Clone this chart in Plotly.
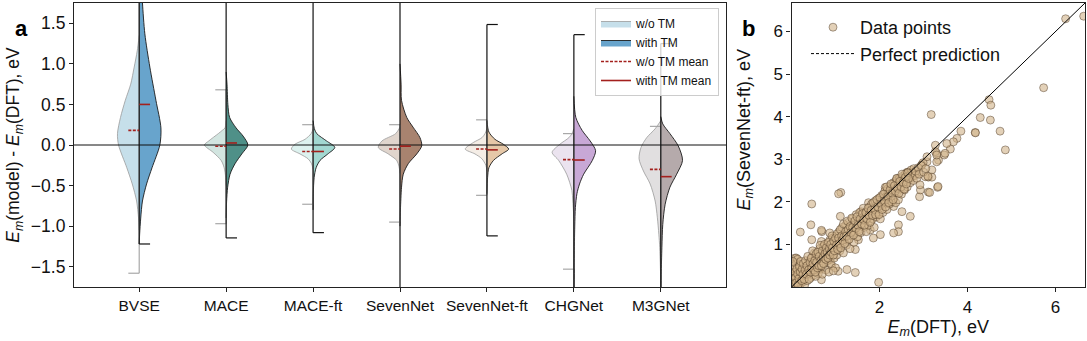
import plotly.graph_objects as go

# ---------------- panel a: migration-barrier errors per model ----------------
models = ["BVSE", "MACE", "MACE-ft", "SevenNet", "SevenNet-ft", "CHGNet", "M3GNet"]

# half-violin profiles: energy error levels (eV) and relative density (peak = 1)
wo_levels = {
    "BVSE": [1.35, 1.16, 0.96, 0.75, 0.55, 0.34, 0.14, 0.0, -0.28, -0.48, -0.69, -0.9, -1.05],
    "MACE": [0.3, 0.21, 0.18, 0.14, 0.05, 0.0, -0.09, -0.19, -0.28, -0.4, -0.5],
    "MACE-ft": [0.2, 0.14, 0.07, 0.01, -0.05, -0.11, -0.17, -0.23, -0.3],
    "SevenNet": [0.22, 0.14, 0.05, -0.03, -0.11, -0.19, -0.26, -0.35],
    "SevenNet-ft": [0.2, 0.14, 0.09, 0.03, -0.05, -0.11, -0.17, -0.25, -0.32],
    "CHGNet": [0.2, 0.14, 0.09, 0.01, -0.09, -0.19, -0.36, -0.56, -0.69, -0.9],
    "M3GNet": [0.3, 0.2, 0.09, -0.03, -0.17, -0.32, -0.48, -0.69, -0.89, -1.1, -1.26, -1.5, -1.7],
}
wo_density = {
    "BVSE": [0.0, 0.09, 0.23, 0.39, 0.64, 0.86, 1.0, 0.95, 0.57, 0.32, 0.12, 0.03, 0.0],
    "MACE": [0.0, 0.05, 0.18, 0.36, 0.8, 1.0, 0.6, 0.23, 0.09, 0.02, 0.0],
    "MACE-ft": [0.0, 0.09, 0.37, 0.83, 1.0, 0.6, 0.23, 0.07, 0.0],
    "SevenNet": [0.0, 0.2, 0.83, 1.0, 0.54, 0.15, 0.05, 0.0],
    "SevenNet-ft": [0.0, 0.09, 0.23, 0.63, 1.0, 0.55, 0.23, 0.05, 0.0],
    "CHGNet": [0.0, 0.09, 0.23, 0.64, 1.0, 0.7, 0.33, 0.09, 0.05, 0.0],
    "M3GNet": [0.0, 0.26, 0.65, 0.91, 1.0, 0.8, 0.49, 0.26, 0.16, 0.09, 0.05, 0.02, 0.0],
}
tm_levels = {
    "BVSE": [2.3, 2.0, 1.75, 1.37, 0.96, 0.55, 0.21, 0.0, -0.28, -0.48, -0.69, -0.9, -1.1, -1.22],
    "MACE": [0.9, 0.75, 0.5, 0.34, 0.21, 0.11, 0.0, -0.11, -0.23, -0.36, -0.52, -0.7, -0.9],
    "MACE-ft": [0.3, 0.2, 0.14, 0.05, -0.03, -0.11, -0.19, -0.28, -0.4, -0.6, -0.8],
    "SevenNet": [1.0, 0.75, 0.55, 0.34, 0.22, 0.09, -0.01, -0.11, -0.23, -0.36, -0.52, -0.8, -1.0],
    "SevenNet-ft": [0.3, 0.16, 0.07, 0.01, -0.05, -0.11, -0.19, -0.28, -0.4, -0.6],
    "CHGNet": [0.6, 0.34, 0.18, 0.05, -0.07, -0.19, -0.36, -0.48, -0.6, -0.77, -1.0, -1.4, -1.9, -2.2],
    "M3GNet": [0.35, 0.26, 0.14, -0.01, -0.19, -0.36, -0.52, -0.73, -0.98, -1.26, -1.6, -1.9, -2.2],
}
tm_density = {
    "BVSE": [0.0, 0.1, 0.15, 0.26, 0.49, 0.77, 1.0, 0.95, 0.59, 0.34, 0.15, 0.07, 0.02, 0.0],
    "MACE": [0.0, 0.04, 0.08, 0.16, 0.46, 0.78, 1.0, 0.72, 0.41, 0.18, 0.07, 0.02, 0.0],
    "MACE-ft": [0.0, 0.06, 0.17, 0.62, 1.0, 0.68, 0.32, 0.14, 0.05, 0.01, 0.0],
    "SevenNet": [0.0, 0.05, 0.07, 0.31, 0.6, 0.92, 1.0, 0.77, 0.38, 0.15, 0.07, 0.02, 0.0],
    "SevenNet-ft": [0.0, 0.09, 0.37, 0.75, 1.0, 0.69, 0.3, 0.09, 0.03, 0.0],
    "CHGNet": [0.0, 0.09, 0.38, 0.75, 1.0, 0.85, 0.45, 0.26, 0.14, 0.07, 0.04, 0.02, 0.01, 0.0],
    "M3GNet": [0.0, 0.09, 0.42, 0.8, 1.0, 0.73, 0.42, 0.2, 0.09, 0.05, 0.02, 0.01, 0.0],
}

# extrema (eV) and means (eV) for each group
wo_min = [-1.58, -0.97, -0.73, -0.95, -0.62, -1.53, -2.0]
wo_max = [2.0, 0.68, 0.25, 0.25, 0.31, 0.14, 0.23]
tm_min = [-1.22, -1.145, -1.08, -2.0, -1.12, -2.0, -2.2]
tm_max = [2.5, 2.2, 2.0, 2.0, 1.485, 1.36, 1.25]
wo_mean = [0.18, -0.015, -0.08, -0.05, -0.05, -0.18, -0.30]
tm_mean = [0.50, 0.025, -0.08, -0.015, -0.06, -0.185, -0.39]

wo_colors = ["#c6dfea", "#d2e5e0", "#ddf2ef", "#e0d5cd", "#f4ede6", "#ebe3ef", "#e1dfe0"]
tm_colors = ["#68a4cc", "#4f9088", "#a2d8d1", "#a8836f", "#e6c8a8", "#c8a8d6", "#b5aaab"]

# ---------------- panel b: SevenNet-ft vs DFT barriers (eV) ----------------
sevennet_ft_points = [
    (6.23, 6.30), (6.64, 6.36), (5.73, 4.68), (4.49, 4.40), (4.53, 4.27), (4.52, 3.92),
    (4.29, 3.98), (4.74, 3.66), (4.86, 3.22), (3.175, 4.05), (4.175, 3.63), (4.18, 3.62),
    (3.85, 3.66), (3.76, 3.49), (3.68, 3.41), (3.61, 3.24), (3.53, 3.37), (3.47, 3.10),
    (3.30, 3.14), (3.27, 3.33), (3.34, 2.98), (3.08, 2.94), (2.96, 2.87), (2.99, 2.92),
    (3.08, 3.06), (3.27, 3.18), (3.32, 2.34), (3.11, 2.23), (2.91, 2.12), (2.93, 2.28),
    (3.11, 2.58), (3.19, 2.75), (3.30, 2.94), (3.49, 3.14), (2.13, 2.34), (2.62, 2.69),
    (2.40, 2.55), (1.12, 2.22), (1.98, 0.11), (1.07, 2.19), (0.46, 1.95), (0.20, 1.29),
    (1.45, 0.34), (1.26, 0.41), (1.11, 1.66), (0.69, 1.30), (0.46, 1.11), (2.70, 1.66),
    (2.43, 1.46), (2.43, 1.30), (2.32, 1.27), (2.02, 1.23), (1.86, 1.15), (1.45, 0.88),
    (3.33, 2.36), (3.14, 2.22), (2.51, 1.77), (2.32, 1.89), (1.75, 1.98), (1.58, 1.77),
    (1.79, 1.34), (1.52, 1.11), (0.88, 0.64), (0.65, 0.41), (0.08, 0.68), (0.05, 0.33),
    (1.06, 0.37), (0.91, 0.49), (0.68, 0.17), (0.65, 0.43), (0.68, 1.33), (0.87, 1.27),
    (0.44, 1.46), (0.68, 1.07), (0.11, 0.68), (2.70, 2.69), (2.85, 2.67), (3.19, 2.58),
    (3.04, 2.59), (3.30, 3.10),
    (0.02, 0.05), (0.04, 0.12), (0.05, 0.02), (0.07, 0.20), (0.08, 0.08), (0.10, 0.15),
    (0.10, 0.30), (0.12, 0.05), (0.13, 0.22), (0.15, 0.12), (0.16, 0.38), (0.17, 0.02),
    (0.18, 0.25), (0.20, 0.18), (0.21, 0.08), (0.22, 0.32), (0.24, 0.20), (0.25, 0.45),
    (0.26, 0.12), (0.28, 0.28), (0.29, 0.40), (0.30, 0.05), (0.03, 0.28), (0.06, 0.40),
    (0.11, 0.55), (0.14, 0.65), (0.19, 0.52), (0.04, 0.33), (0.02, 0.48), (0.03, 0.60),
    (0.32, 0.25), (0.33, 0.48), (0.35, 0.38), (0.36, 0.15), (0.38, 0.55), (0.40, 0.30),
    (0.41, 0.62), (0.42, 0.42), (0.44, 0.22), (0.45, 0.50), (0.47, 0.70), (0.48, 0.38),
    (0.50, 0.58), (0.51, 0.28), (0.52, 0.80), (0.54, 0.48), (0.55, 0.65), (0.57, 0.40),
    (0.58, 0.75), (0.60, 0.55), (0.61, 0.32), (0.62, 0.68), (0.64, 0.90), (0.65, 0.60),
    (0.66, 0.45), (0.68, 0.78), (0.70, 0.66), (0.71, 0.50), (0.72, 0.95), (0.74, 0.72),
    (0.75, 0.58), (0.77, 0.85), (0.78, 0.40), (0.80, 0.75), (0.81, 1.02), (0.82, 0.62),
    (0.84, 0.88), (0.85, 0.70), (0.87, 1.10), (0.88, 0.80), (0.90, 0.55), (0.91, 0.95),
    (0.92, 0.78), (0.94, 1.15), (0.95, 0.88), (0.97, 0.68), (0.98, 1.02), (1.00, 0.90),
    (0.55, 0.25), (0.70, 0.30), (0.85, 0.35), (1.00, 0.45), (0.95, 0.38),
    (1.02, 1.20), (1.03, 0.75), (1.05, 1.05), (1.07, 0.95), (1.08, 1.30), (1.10, 0.85),
    (1.12, 1.12), (1.13, 1.00), (1.15, 1.40), (1.17, 1.05), (1.18, 0.80), (1.20, 1.22),
    (1.22, 1.15), (1.23, 1.45), (1.25, 0.98), (1.27, 1.30), (1.28, 1.10), (1.30, 1.52),
    (1.32, 1.25), (1.33, 0.90), (1.35, 1.38), (1.37, 1.20), (1.38, 1.60), (1.40, 1.32),
    (1.42, 1.05), (1.43, 1.48), (1.45, 1.28), (1.47, 1.70), (1.48, 1.40), (1.50, 1.18),
    (1.52, 1.55), (1.53, 1.35), (1.55, 1.75), (1.57, 1.45), (1.58, 1.28), (1.60, 1.62),
    (1.62, 1.50), (1.63, 1.85), (1.65, 1.40), (1.67, 1.68), (1.68, 1.55), (1.70, 1.30),
    (1.72, 1.78), (1.73, 1.62), (1.75, 1.45), (1.77, 1.88), (1.78, 1.70), (1.80, 1.55),
    (1.82, 1.95), (1.83, 1.75), (1.85, 1.60), (1.87, 1.85), (1.88, 1.40), (1.90, 2.02),
    (1.92, 1.78), (1.93, 1.65), (1.95, 1.92), (1.97, 1.72), (1.98, 2.08), (2.00, 1.85),
    (2.02, 1.60), (2.03, 2.00), (2.05, 2.15), (2.07, 1.90), (2.08, 1.75), (2.10, 2.08),
    (2.12, 2.25), (2.13, 1.95), (2.15, 2.12), (2.17, 1.82), (2.18, 2.30), (2.20, 2.05),
    (2.22, 2.20), (2.23, 1.95), (2.25, 2.38), (2.27, 2.15), (2.28, 2.00), (2.30, 2.28),
    (2.32, 2.45), (2.33, 2.10), (2.35, 2.32), (2.37, 1.98), (2.38, 2.50), (2.40, 2.22),
    (2.42, 2.38), (2.43, 2.05), (2.45, 2.55), (2.47, 2.30), (2.48, 2.45), (2.50, 2.18),
    (2.52, 2.60), (2.53, 2.40), (2.55, 2.52), (2.57, 2.28), (2.58, 2.65), (2.60, 2.48),
    (2.62, 2.58), (2.63, 2.35), (2.65, 2.70), (2.67, 2.52), (2.68, 2.62), (2.70, 2.45),
    (2.72, 2.75), (2.73, 2.58), (2.75, 2.68), (2.77, 2.50), (2.78, 2.78), (2.80, 2.62),
    (2.82, 2.72), (2.85, 2.55), (2.88, 2.80), (2.90, 2.65), (2.92, 2.40), (2.95, 2.85),
    (3.00, 2.70), (3.05, 2.78), (3.10, 2.60),
    (0.01, 0.10), (0.03, 0.18), (0.05, 0.25), (0.06, 0.08), (0.08, 0.35), (0.09, 0.22),
    (0.11, 0.10), (0.12, 0.42), (0.14, 0.30), (0.15, 0.05), (0.17, 0.20), (0.18, 0.48),
    (0.20, 0.35), (0.21, 0.60), (0.23, 0.15), (0.24, 0.42), (0.26, 0.30), (0.27, 0.55),
    (0.29, 0.18), (0.31, 0.40), (0.32, 0.62), (0.34, 0.30), (0.35, 0.50), (0.37, 0.72),
    (0.39, 0.40), (0.40, 0.18), (0.42, 0.58), (0.43, 0.35), (0.45, 0.68), (0.46, 0.45),
    (0.48, 0.85), (0.49, 0.55), (0.51, 0.40), (0.53, 0.62), (0.54, 0.35), (0.56, 0.78),
    (0.57, 0.58), (0.59, 0.45), (0.60, 0.82), (0.62, 0.50), (0.63, 0.72), (0.65, 0.98),
    (0.67, 0.62), (0.68, 0.50), (0.70, 0.85), (0.72, 0.70), (0.73, 0.55), (0.75, 1.00),
    (0.76, 0.78), (0.78, 0.65), (0.79, 0.92), (0.81, 0.82), (0.83, 0.68), (0.84, 1.05),
    (0.86, 0.90), (0.87, 0.75), (0.89, 1.00), (0.90, 0.82), (0.92, 1.20), (0.93, 0.92),
    (0.95, 0.75), (0.96, 1.08), (0.98, 0.85), (1.00, 1.15), (1.02, 0.98), (1.04, 1.25),
    (1.05, 0.88), (1.07, 1.15), (1.09, 1.02), (1.11, 1.35), (1.12, 0.92), (1.14, 1.20),
    (1.16, 1.10), (1.18, 1.48), (1.19, 1.18), (1.21, 1.02), (1.23, 1.30), (1.25, 1.20),
    (1.27, 1.55), (1.29, 1.35), (1.31, 1.12), (1.33, 1.42), (1.35, 1.28), (1.37, 1.62),
    (1.39, 1.40), (1.41, 1.22), (1.44, 1.55), (1.46, 1.38), (1.49, 1.65), (1.51, 1.45),
    (1.54, 1.30), (1.56, 1.60), (1.59, 1.48), (1.61, 1.72), (1.64, 1.58), (1.66, 1.45),
    (1.69, 1.75), (1.71, 1.60), (1.74, 1.85), (1.76, 1.68), (1.79, 1.52), (1.81, 1.80),
    (1.84, 1.68), (1.86, 1.98), (1.89, 1.82), (1.91, 1.70), (1.94, 2.05), (1.96, 1.88),
    (1.99, 1.70), (2.01, 2.10), (2.04, 1.95), (2.06, 1.82), (2.09, 2.18), (2.11, 2.02),
    (2.14, 1.88), (2.16, 2.35), (2.19, 2.12), (2.21, 1.98), (2.24, 2.28), (2.26, 2.42),
    (2.29, 2.20), (2.31, 2.05), (2.34, 2.38), (2.36, 2.25), (2.39, 2.55), (2.41, 2.32),
    (2.44, 2.20), (2.46, 2.48), (2.49, 2.35), (2.51, 2.65), (2.54, 2.45), (2.56, 2.30),
    (2.59, 2.58), (2.61, 2.42), (2.64, 2.68), (2.66, 2.55),
]
em_dft = [p[0] for p in sevennet_ft_points]
em_sevennet_ft = [p[1] for p in sevennet_ft_points]
parity_range = [0.0, 6.67]

HALF_W = 0.25     # max half-width of a violin, in category units
TICK_W = 0.125    # length of extrema caps and mean markers
MEAN_RED = "#a3201d"
FONT = "Liberation Sans, Arial, sans-serif"
KEY = "panel_a_key"

fig = go.Figure()

# split violins: w/o TM on the left, with TM on the right
for i, m in enumerate(models):
    first = (i == 0)
    xs = [i - HALF_W * d for d in wo_density[m]]
    fig.add_trace(go.Scatter(
        x=xs, y=wo_levels[m], mode="lines", fill="toself", fillcolor=wo_colors[i],
        line=dict(color="#9a9a9a", width=0.8, shape="spline", smoothing=0.8),
        name="w/o TM", showlegend=first, legend="legend",
        legendgroup=KEY if first else None, hoverinfo="skip"))
    xs = [i + HALF_W * d for d in tm_density[m]]
    fig.add_trace(go.Scatter(
        x=xs, y=tm_levels[m], mode="lines", fill="toself", fillcolor=tm_colors[i],
        line=dict(color="#1a1a1a", width=0.9, shape="spline", smoothing=0.8),
        name="with TM", showlegend=first, legend="legend",
        legendgroup=KEY if first else None, hoverinfo="skip"))

# extrema bars: grey for w/o TM, black for with TM
def bars(mins, maxs, side):
    bx, by = [], []
    for i, (lo, hi) in enumerate(zip(mins, maxs)):
        bx += [i, i, None]
        by += [lo, hi, None]
        for v in (lo, hi):
            bx += [i, i + side * TICK_W, None]
            by += [v, v, None]
    return bx, by

bx, by = bars(wo_min, wo_max, -1)
fig.add_trace(go.Scatter(x=bx, y=by, mode="lines", line=dict(color="#a0a0a0", width=1.1),
                         showlegend=False, hoverinfo="skip"))
bx, by = bars(tm_min, tm_max, 1)
fig.add_trace(go.Scatter(x=bx, y=by, mode="lines", line=dict(color="#111111", width=1.2),
                         showlegend=False, hoverinfo="skip"))

# zero reference line
fig.add_trace(go.Scatter(x=[-0.75, 6.75], y=[0, 0], mode="lines",
                         line=dict(color="#111111", width=1), showlegend=False,
                         hoverinfo="skip"))

# group means
mx, my = [], []
for i, v in enumerate(wo_mean):
    mx += [i - TICK_W, i, None]
    my += [v, v, None]
fig.add_trace(go.Scatter(x=mx, y=my, mode="lines", name="w/o TM mean", legend="legend",
                         legendgroup=KEY,
                         line=dict(color=MEAN_RED, width=1.6, dash="3px,1.5px"),
                         hoverinfo="skip"))
mx, my = [], []
for i, v in enumerate(tm_mean):
    mx += [i, i + TICK_W, None]
    my += [v, v, None]
fig.add_trace(go.Scatter(x=mx, y=my, mode="lines", name="with TM mean", legend="legend",
                         legendgroup=KEY,
                         line=dict(color=MEAN_RED, width=1.6), hoverinfo="skip"))

# parity plot
fig.add_trace(go.Scatter(
    x=em_dft, y=em_sevennet_ft, mode="markers", name="Data points", legend="legend2",
    xaxis="x2", yaxis="y2",
    marker=dict(size=8, color="rgba(210,180,140,0.62)",
                line=dict(color="rgba(70,50,30,0.65)", width=0.7)),
    hoverinfo="skip"))
fig.add_trace(go.Scatter(
    x=parity_range, y=parity_range, mode="lines", xaxis="x2", yaxis="y2",
    line=dict(color="black", width=1), showlegend=False, hoverinfo="skip"))
fig.add_trace(go.Scatter(
    x=[None], y=[None], mode="lines", name="Perfect prediction", legend="legend2",
    xaxis="x2", yaxis="y2", line=dict(color="black", width=1, dash="3px,2px")))

W, H = 1087, 341
ML, MT, MB = 0, 3, 54
plot_h = H - MT - MB

def px_x(p):
    return p / W

def px_y(p):
    return (H - MB - p) / plot_h

def axis_style(tick_size):
    return dict(showline=True, mirror=True, linecolor="#222222", linewidth=1.2,
                showgrid=False, zeroline=False, ticks="outside", ticklen=4,
                tickwidth=1, tickcolor="#222222",
                tickfont=dict(family=FONT, size=tick_size, color="#111111"),
                automargin=False)

em = "<i>E</i><sub><i>m</i></sub>"
TITLE_FONT = dict(family=FONT, size=18, color="#111111")

fig.update_layout(
    width=W, height=H,
    margin=dict(l=ML, r=0, t=MT, b=MB),
    paper_bgcolor="white", plot_bgcolor="white",
    font=dict(family=FONT, size=16, color="#111111"),
    xaxis=dict(domain=[px_x(74), px_x(726)], range=[-0.75, 6.75],
               tickvals=list(range(len(models))), ticktext=models, **axis_style(15.5)),
    yaxis=dict(range=[-1.75, 1.75], tickvals=[-1.5, -1.0, -0.5, 0.0, 0.5, 1.0, 1.5],
               tickformat=".1f",
               title=dict(text=em + "(model) - " + em + "(DFT), eV",
                          font=dict(family=FONT, size=17.5, color="#111111"), standoff=6),
               **axis_style(17.5)),
    xaxis2=dict(domain=[px_x(791.5), px_x(1085)], range=[0, 6.67], anchor="y2",
                tickvals=[2, 4, 6],
                title=dict(text=em + "(DFT), eV", font=TITLE_FONT, standoff=4),
                **axis_style(17)),
    yaxis2=dict(domain=[0, 1], range=[0, 6.67], anchor="x2",
                tickvals=[1, 2, 3, 4, 5, 6], **axis_style(17)),
    legend=dict(x=px_x(719), xanchor="right", y=px_y(8), yanchor="top",
                bgcolor="rgba(255,255,255,0.8)", bordercolor="#cccccc", borderwidth=1,
                font=dict(family=FONT, size=12, color="#111111"),
                traceorder="normal", tracegroupgap=0, itemwidth=30),
    legend2=dict(x=px_x(806), xanchor="left", y=px_y(9), yanchor="top",
                 bgcolor="rgba(0,0,0,0)", borderwidth=0,
                 font=dict(family=FONT, size=18, color="#111111"), itemwidth=44),
    annotations=[
        dict(text="<b>a</b>", x=px_x(13), y=px_y(14), xref="paper", yref="paper",
             showarrow=False, font=dict(family=FONT, size=22, color="black")),
        dict(text="<b>b</b>", x=px_x(757), y=px_y(14), xref="paper", yref="paper",
             showarrow=False, font=dict(family=FONT, size=22, color="black")),
        # y-axis title of panel b
        dict(text=em + "(SevenNet-ft), eV", x=px_x(758), y=px_y(130),
             xref="paper", yref="paper", textangle=-90, showarrow=False,
             font=TITLE_FONT),
    ],
    showlegend=True,
)

fig.write_html("out.html")
